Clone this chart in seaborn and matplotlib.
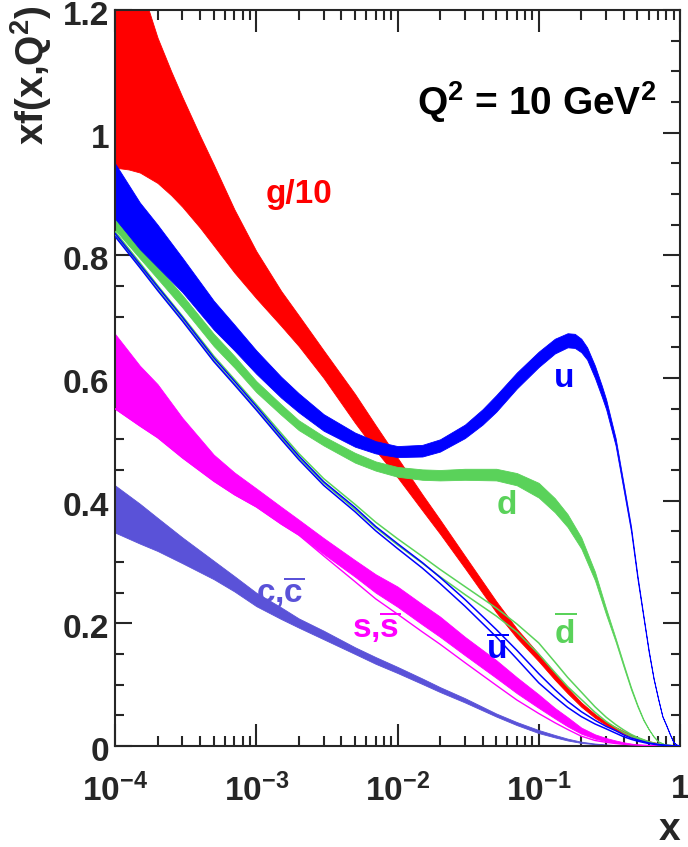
import numpy as np
import pandas as pd
import seaborn as sns
import matplotlib as mpl
mpl.use('Agg')
import matplotlib.pyplot as plt
import matplotlib.transforms as mtransforms
from matplotlib.ticker import LogLocator, FixedLocator, FixedFormatter, MultipleLocator, NullFormatter

# values: xf(x,Q^2) at Q^2 = 10 GeV^2

# gluon (divided by 10)
x_g = [1e-4, 1.25e-4, 1.5e-4, 2e-4, 2.5e-4, 3e-4, 4e-4, 5e-4, 7e-4, 1e-3, 1.5e-3, 2e-3,
       3e-3, 5e-3, 7e-3, 1e-2, 1.5e-2, 2e-2, 3e-2, 5e-2, 7e-2, 0.1, 0.13, 0.16, 0.2,
       0.25, 0.3, 0.4, 0.5, 0.6, 0.7, 0.8, 0.9, 1.0]
g10_lo = [0.943, 0.94, 0.935, 0.918, 0.898, 0.879, 0.845, 0.816, 0.772, 0.73, 0.685, 0.652,
          0.6, 0.527, 0.482, 0.438, 0.384, 0.346, 0.29, 0.218, 0.176, 0.138, 0.108, 0.086, 0.064,
          0.046, 0.034, 0.02, 0.011, 0.006, 0.003, 0.0015, 0.0005, 0.0]
g10_hi = [1.37, 1.30, 1.245, 1.155, 1.10, 1.058, 0.995, 0.948, 0.875, 0.807, 0.742, 0.702,
          0.645, 0.574, 0.523, 0.47, 0.41, 0.369, 0.31, 0.236, 0.191, 0.15, 0.119, 0.095, 0.071,
          0.052, 0.039, 0.024, 0.014, 0.008, 0.0045, 0.0022, 0.0008, 0.0]

# u band
x_u = [1e-4, 1.5e-4, 2e-4, 3e-4, 5e-4, 7e-4, 1e-3, 1.5e-3, 2e-3, 3e-3, 5e-3, 7e-3,
       1e-2, 1.5e-2, 2e-2, 3e-2, 4e-2, 5e-2, 7e-2, 0.1, 0.13, 0.16, 0.18, 0.2, 0.22,
       0.25, 0.28, 0.3, 0.35, 0.4, 0.45, 0.5, 0.55, 0.6, 0.65, 0.7, 0.75, 0.8, 0.85,
       0.9, 0.95, 1.0]
u_lo = [0.86, 0.81, 0.781, 0.74, 0.679, 0.645, 0.607, 0.568, 0.544, 0.514, 0.488, 0.477,
        0.471, 0.472, 0.48, 0.502, 0.524, 0.545, 0.583, 0.618, 0.64, 0.65, 0.649, 0.642, 0.63,
        0.60, 0.569, 0.549, 0.49, 0.416, 0.35, 0.272, 0.21, 0.153, 0.109, 0.076, 0.048, 0.033, 0.018,
        0.006, 0.002, 0.0]
u_hi = [0.95, 0.886, 0.85, 0.796, 0.726, 0.687, 0.645, 0.602, 0.575, 0.541, 0.511, 0.497,
        0.489, 0.491, 0.5, 0.524, 0.549, 0.572, 0.609, 0.643, 0.664, 0.673, 0.672, 0.664, 0.65,
        0.62, 0.587, 0.565, 0.502, 0.426, 0.358, 0.278, 0.214, 0.157, 0.111, 0.078, 0.049, 0.034, 0.019,
        0.006, 0.002, 0.0]

# d band
x_d = [1e-4, 1.5e-4, 2e-4, 3e-4, 5e-4, 7e-4, 1e-3, 1.5e-3, 2e-3, 3e-3, 5e-3, 7e-3,
       1e-2, 1.5e-2, 2e-2, 3e-2, 5e-2, 7e-2, 0.1, 0.13, 0.16, 0.2, 0.25, 0.3, 0.35,
       0.4, 0.45, 0.5, 0.55, 0.6, 0.65, 0.7, 0.8, 0.9, 1.0]
d_lo = [0.842, 0.795, 0.762, 0.715, 0.652, 0.617, 0.577, 0.54, 0.515, 0.49, 0.462, 0.449,
        0.439, 0.434, 0.433, 0.434, 0.433, 0.425, 0.405, 0.381, 0.357, 0.322, 0.27, 0.214, 0.17,
        0.128, 0.092, 0.064, 0.042, 0.027, 0.015, 0.007, 0.0015, 0.0002, 0.0]
d_hi = [0.861, 0.815, 0.782, 0.735, 0.672, 0.636, 0.595, 0.557, 0.531, 0.505, 0.478, 0.464,
        0.455, 0.451, 0.45, 0.452, 0.452, 0.445, 0.429, 0.404, 0.378, 0.34, 0.284, 0.224, 0.176,
        0.133, 0.096, 0.067, 0.044, 0.028, 0.016, 0.008, 0.0015, 0.0002, 0.0]

# sea quarks share one x grid
x_sea = [1e-4, 1.5e-4, 2e-4, 3e-4, 5e-4, 7e-4, 1e-3, 1.5e-3, 2e-3, 3e-3, 5e-3, 7e-3,
         1e-2, 1.5e-2, 2e-2, 3e-2, 5e-2, 7e-2, 0.1, 0.13, 0.16, 0.2, 0.25, 0.3,
         0.35, 0.4, 0.45, 0.5, 0.6, 0.7, 0.8, 0.9, 1.0]

s_lo = [0.55, 0.522, 0.503, 0.47, 0.432, 0.41, 0.39, 0.362, 0.344, 0.313, 0.276, 0.25,
        0.227, 0.198, 0.178, 0.148, 0.111, 0.086, 0.062, 0.045, 0.032, 0.02, 0.012, 0.008,
        0.005, 0.0035, 0.0025, 0.0015, 0.0007, 0.0002, 0.0, 0.0, 0.0]
s_hi = [0.672, 0.62, 0.59, 0.535, 0.475, 0.446, 0.42, 0.39, 0.369, 0.339, 0.303, 0.28,
        0.26, 0.231, 0.211, 0.178, 0.14, 0.112, 0.084, 0.062, 0.047, 0.03, 0.019, 0.013,
        0.009, 0.006, 0.004, 0.0025, 0.0012, 0.0005, 0.0001, 0.0, 0.0]
s_edge = [0.55, 0.522, 0.503, 0.47, 0.432, 0.41, 0.39, 0.362, 0.344, 0.31, 0.268, 0.24,
          0.215, 0.186, 0.166, 0.136, 0.099, 0.075, 0.053, 0.038, 0.027, 0.016, 0.009, 0.006,
          0.004, 0.003, 0.002, 0.0015, 0.0007, 0.0002, 0.0, 0.0, 0.0]

c_lo = [0.348, 0.33, 0.318, 0.298, 0.272, 0.252, 0.228, 0.207, 0.193, 0.174, 0.15, 0.134,
        0.119, 0.101, 0.088, 0.071, 0.048, 0.034, 0.021, 0.014, 0.009, 0.005, 0.003, 0.0015,
        0.001, 0.0005, 0.0003, 0.0001, 0.0, 0.0, 0.0, 0.0, 0.0]
c_hi = [0.425, 0.395, 0.372, 0.34, 0.302, 0.277, 0.25, 0.226, 0.208, 0.188, 0.161, 0.145,
        0.129, 0.11, 0.096, 0.078, 0.053, 0.039, 0.026, 0.018, 0.012, 0.007, 0.004, 0.0025,
        0.0015, 0.001, 0.0006, 0.0003, 0.0, 0.0, 0.0, 0.0, 0.0]

ubar_lo = [0.831, 0.78, 0.743, 0.693, 0.627, 0.589, 0.548, 0.5, 0.467, 0.425, 0.382, 0.351,
           0.322, 0.29, 0.265, 0.228, 0.178, 0.142, 0.103, 0.08, 0.063, 0.048, 0.036, 0.028,
           0.021, 0.015, 0.011, 0.008, 0.004, 0.002, 0.0008, 0.0002, 0.0]
ubar_hi = [0.836, 0.785, 0.749, 0.699, 0.633, 0.595, 0.554, 0.506, 0.473, 0.431, 0.389, 0.358,
           0.33, 0.299, 0.275, 0.239, 0.19, 0.156, 0.118, 0.092, 0.073, 0.056, 0.042, 0.032,
           0.025, 0.018, 0.013, 0.01, 0.005, 0.0025, 0.001, 0.0003, 0.0]
dbar_lo = [0.833, 0.782, 0.745, 0.695, 0.629, 0.591, 0.55, 0.503, 0.47, 0.429, 0.386, 0.356,
           0.328, 0.298, 0.276, 0.247, 0.212, 0.186, 0.15, 0.12, 0.097, 0.076, 0.055, 0.04,
           0.03, 0.022, 0.016, 0.012, 0.006, 0.0025, 0.001, 0.0003, 0.0]
dbar_hi = [0.839, 0.788, 0.751, 0.701, 0.636, 0.598, 0.557, 0.51, 0.477, 0.436, 0.394, 0.365,
           0.338, 0.309, 0.288, 0.26, 0.225, 0.199, 0.168, 0.137, 0.112, 0.088, 0.064, 0.047,
           0.035, 0.026, 0.019, 0.014, 0.007, 0.003, 0.0012, 0.0003, 0.0]

y_ticks = [0, 0.2, 0.4, 0.6, 0.8, 1.0, 1.2]
y_ticklabels = ['0', '0.2', '0.4', '0.6', '0.8', '1', '1.2']
x_ticks = [1e-4, 1e-3, 1e-2, 1e-1, 1]
x_ticklabels = [r'$10^{-4}$', r'$10^{-3}$', r'$10^{-2}$', r'$10^{-1}$', '1']

RED = '#ff0000'
BLUE = '#0000ff'
GREEN = '#5ad25a'
MAGENTA = '#ff00ff'
SLATE = '#5a52d8'

sns.set_style("ticks")
plt.rcParams['font.family'] = ['Liberation Sans', 'DejaVu Sans']
plt.rcParams['font.weight'] = 'bold'
plt.rcParams['mathtext.fontset'] = 'custom'
plt.rcParams['mathtext.rm'] = 'Liberation Sans:bold'
plt.rcParams['mathtext.it'] = 'Liberation Sans:bold'
plt.rcParams['mathtext.bf'] = 'Liberation Sans:bold'

gdf = pd.DataFrame({'x': x_g, 'lo': g10_lo, 'hi': g10_hi})
udf = pd.DataFrame({'x': x_u, 'lo': u_lo, 'hi': u_hi})
ddf = pd.DataFrame({'x': x_d, 'lo': d_lo, 'hi': d_hi})
sea = pd.DataFrame({'x': x_sea, 's_lo': s_lo, 's_hi': s_hi, 's_edge': s_edge,
                    'c_lo': c_lo, 'c_hi': c_hi, 'ubar_lo': ubar_lo, 'ubar_hi': ubar_hi,
                    'dbar_lo': dbar_lo, 'dbar_hi': dbar_hi})

fig = plt.figure(figsize=(6.88, 8.47), dpi=100)
ax = fig.add_axes([115 / 688, 101 / 847, 565 / 688, 736 / 847])
ax.set_xscale('log')

# filled bands
ax.fill_between(sea['x'], sea['c_lo'], sea['c_hi'], color=SLATE, lw=0.6, edgecolor=SLATE, zorder=2)
ax.fill_between(sea['x'], sea['s_lo'], sea['s_hi'], color=MAGENTA, lw=0.6, edgecolor=MAGENTA, zorder=2)
ax.fill_between(gdf['x'], gdf['lo'], gdf['hi'], color=RED, lw=0.6, edgecolor=RED, zorder=2)
ax.fill_between(ddf['x'], ddf['lo'], ddf['hi'], color=GREEN, lw=0.6, edgecolor=GREEN, zorder=2)
ax.fill_between(udf['x'], udf['lo'], udf['hi'], color=BLUE, lw=0.6, edgecolor=BLUE, zorder=2)

# outline-only bands
sns.lineplot(data=sea, x='x', y='s_edge', ax=ax, color=MAGENTA, lw=1.0, estimator=None, sort=False, zorder=3)
for col_name, col in [('dbar_lo', GREEN), ('dbar_hi', GREEN), ('ubar_lo', BLUE), ('ubar_hi', BLUE)]:
    sns.lineplot(data=sea, x='x', y=col_name, ax=ax, color=col, lw=1.1, estimator=None, sort=False, zorder=3)

ax.set_xlim(1e-4, 1)
ax.set_ylim(0, 1.2)

ax.xaxis.set_major_locator(FixedLocator(x_ticks))
ax.xaxis.set_major_formatter(FixedFormatter(x_ticklabels))
ax.xaxis.set_minor_locator(LogLocator(base=10, subs=np.arange(2, 10), numticks=20))
ax.xaxis.set_minor_formatter(NullFormatter())
ax.yaxis.set_major_locator(FixedLocator(y_ticks))
ax.yaxis.set_major_formatter(FixedFormatter(y_ticklabels))
ax.yaxis.set_minor_locator(MultipleLocator(0.05))

for s in ax.spines.values():
    s.set_linewidth(1.5)
    s.set_visible(True)
ax.tick_params(axis='x', which='major', direction='in', length=15.5, width=1.5,
               top=True, bottom=True, labelsize=24, pad=20)
ax.tick_params(axis='x', which='minor', direction='in', length=7.5, width=1.5, top=True, bottom=True)
ax.tick_params(axis='y', which='major', direction='in', length=12, width=1.5,
               left=True, right=True, labelsize=24, pad=4)
ax.tick_params(axis='y', which='minor', direction='in', length=6.5, width=1.5, left=True, right=True)

# y tick labels sit a little below their ticks, as in the original
shift = mtransforms.ScaledTranslation(0, -3 / 100, fig.dpi_scale_trans)
for t in ax.get_yticklabels():
    t.set_transform(t.get_transform() + shift)

ax.set_xlabel('x', fontsize=28, fontweight='bold', loc='right')
ax.xaxis.set_label_coords(1.0, -0.128)
ax.xaxis.label.set_verticalalignment('baseline')
ax.set_ylabel(r'xf(x,Q$^2$)', fontsize=28, fontweight='bold', loc='top')
ax.yaxis.set_label_coords(-0.108, 1.007)

ax.text(0.958, 0.857, r'Q$^2$ = 10 GeV$^2$', transform=ax.transAxes, ha='right',
        va='baseline', fontsize=28, fontweight='bold', color='black')

lab = dict(ha='left', va='baseline', fontsize=24, fontweight='bold')
ax.text(1.16e-3, 0.886, 'g/10', color=RED, **lab)
ax.text(0.128, 0.586, 'u', color=BLUE, **lab)
ax.text(0.0503, 0.378, 'd', color=GREEN, **lab)
ax.text(0.042, 0.144, r'$\overline{\mathrm{u}}$', color=BLUE, **lab)
ax.text(0.128, 0.168, r'$\overline{\mathrm{d}}$', color=GREEN, **lab)
ax.text(4.8e-3, 0.176, r's,$\overline{\mathrm{s}}$', color=MAGENTA, **lab)
ax.text(1.0e-3, 0.233, r'c,$\overline{\mathrm{c}}$', color=SLATE, **lab)

fig.savefig('out.png', dpi=100)
plt.close(fig)
